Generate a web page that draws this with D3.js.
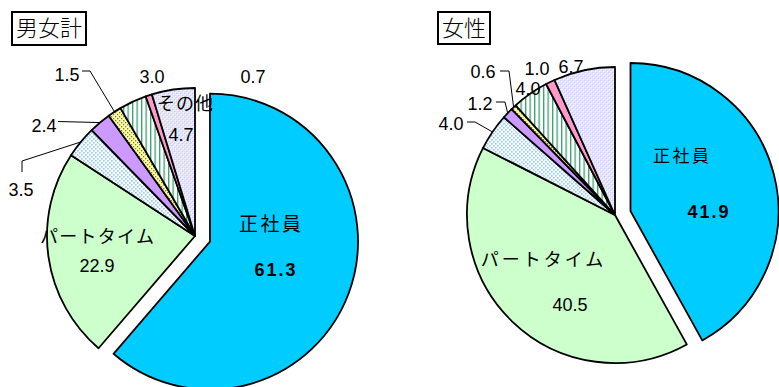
<!DOCTYPE html>
<html><head><meta charset="utf-8">
<script src="https://cdn.jsdelivr.net/npm/d3@7/dist/d3.min.js"></script>
<style>
html,body{margin:0;padding:0;background:#fff;}
svg{display:block;}
.jp{font-family:"Noto Sans CJK JP","Noto Sans",sans-serif;}
.num{font-family:"Liberation Sans",Arial,sans-serif;}
</style></head>
<body>
<svg id="c" width="779" height="387"></svg>
<script>
// ---- data ----
const categories = ["正社員","パートタイム","契約社員","嘱託社員","出向社員","派遣労働者","臨時的雇用者","その他"];
const totalValues = [61.3, 22.9, 3.5, 2.4, 1.5, 3.0, 0.7, 4.7];
const femaleValues = [41.9, 40.5, 4.0, 1.2, 0.6, 4.0, 1.0, 6.7];
const chartTitles = ["男女計", "女性"];
const totalLabels = ["61.3","22.9","3.5","2.4","1.5","3.0","0.7","4.7"];
const femaleLabels = ["41.9","40.5","4.0","1.2","0.6","4.0","1.0","6.7"];

// ---- layout / style ----
const fills = ["#00CCFF","#CCFFCC","url(#pBlue)","#CC99FF","url(#pYellow)","url(#pStripe)","#FF99CC","url(#pLav)"];
const R = 148, EXPLODE = 16;

const svg = d3.select("#c");
const defs = svg.append("defs");
// patterns
let p = defs.append("pattern").attr("id","pBlue").attr("patternUnits","userSpaceOnUse").attr("width",4).attr("height",4);
p.append("rect").attr("width",4).attr("height",4).attr("fill","#fff");
p.append("rect").attr("x",0).attr("y",0).attr("width",1.7).attr("height",1.7).attr("fill","#99CCFF");
p.append("rect").attr("x",2).attr("y",2).attr("width",1.7).attr("height",1.7).attr("fill","#99CCFF");
p = defs.append("pattern").attr("id","pYellow").attr("patternUnits","userSpaceOnUse").attr("width",4).attr("height",4);
p.append("rect").attr("width",4).attr("height",4).attr("fill","#FFFF99");
p.append("rect").attr("x",0).attr("y",0).attr("width",1.3).attr("height",1.3).attr("fill","#7a7a50");
p.append("rect").attr("x",2).attr("y",2).attr("width",1.3).attr("height",1.3).attr("fill","#7a7a50");
p = defs.append("pattern").attr("id","pStripe").attr("patternUnits","userSpaceOnUse").attr("width",4.5).attr("height",4);
p.append("rect").attr("width",4.5).attr("height",4).attr("fill","#fff");
p.append("rect").attr("x",0).attr("y",0).attr("width",1.3).attr("height",4).attr("fill","#3A9E6E");
p = defs.append("pattern").attr("id","pLav").attr("patternUnits","userSpaceOnUse").attr("width",4).attr("height",4);
p.append("rect").attr("width",4).attr("height",4).attr("fill","#E4E4FF");
p.append("rect").attr("x",0).attr("y",0).attr("width",1).attr("height",1).attr("fill","#ffffff");
p.append("rect").attr("x",2).attr("y",2).attr("width",1).attr("height",1).attr("fill","#ffffff");
p.append("rect").attr("x",1).attr("y",1).attr("width",1).attr("height",1).attr("fill","#C8C8F4");
p.append("rect").attr("x",3).attr("y",3).attr("width",1).attr("height",1).attr("fill","#C8C8F4");

const charts = [
  { title: chartTitles[0], values: totalValues, labels: totalLabels, cx: 195, cy: 236,
    box: {x:12, y:12, w:74, h:33, tx:49},
    name: [{i:0, text:"正社員", x:270, y:224, fs:19, ls:2.5},
           {i:1, text:"パートタイム", x:97, y:237, fs:18, ls:1.3},
           {i:7, text:"その他", x:185, y:104, fs:18, ls:1}],
    val: [{i:0, x:275, y:270, bold:true},
          {i:1, x:97, y:266},
          {i:2, x:21, y:190, pts:[[22,161],[22,172]]},
          {i:3, x:44, y:126, pts:[[58,121.5]]},
          {i:4, x:67, y:75, pts:[[90,71],[82,71]]},
          {i:5, x:152, y:77},
          {i:6, x:253, y:77},
          {i:7, x:181, y:135}] },
  { title: chartTitles[1], values: femaleValues, labels: femaleLabels, cx: 615, cy: 215,
    box: {x:438, y:12, w:52, h:32, tx:464},
    name: [{i:0, text:"正社員", x:681, y:156, fs:17, ls:2.5},
           {i:1, text:"パートタイム", x:542, y:260, fs:18, ls:3}],
    val: [{i:0, x:708, y:212, bold:true},
          {i:1, x:570, y:305},
          {i:2, x:451, y:124, pts:[[475,122],[467,122]]},
          {i:3, x:480, y:104, pts:[[505,102],[496,102]]},
          {i:4, x:483, y:72, pts:[[509,71],[500,71]]},
          {i:5, x:528, y:89},
          {i:6, x:537, y:69},
          {i:7, x:571, y:67}] }
];

const pie = d3.pie().sort(null).value(d => d);
const arc = d3.arc().innerRadius(0).outerRadius(R);

charts.forEach(ch => {
  const arcs = pie(ch.values);
  const g = svg.append("g").attr("transform", `translate(${ch.cx},${ch.cy})`);
  g.selectAll("path").data(arcs).join("path")
    .attr("d", arc)
    .attr("fill", (d,i) => fills[i])
    .attr("stroke", "#000")
    .attr("stroke-width", 1.8)
    .attr("stroke-linejoin", "round")
    .attr("transform", (d,i) => {
      if (i !== 0) return null;
      const m = (d.startAngle + d.endAngle) / 2;
      return `translate(${EXPLODE*Math.sin(m)},${-EXPLODE*Math.cos(m)})`;
    });

  // leader lines
  ch.val.filter(v => v.pts).forEach(v => {
    const d = arcs[v.i];
    const m = (d.startAngle + d.endAngle) / 2;
    const start = [ch.cx + R*Math.sin(m), ch.cy - R*Math.cos(m)];
    const pts = [start, ...v.pts];
    svg.append("path").attr("d", d3.line()(pts))
      .attr("fill","none").attr("stroke","#000").attr("stroke-width",1);
  });

  // names
  ch.name.forEach(n => {
    svg.append("text").attr("class","jp")
      .attr("x", n.x + n.ls/2).attr("y", n.y).attr("dy","0.36em")
      .attr("text-anchor","middle")
      .style("font-size", n.fs + "px").style("letter-spacing", n.ls + "px")
      .attr("fill","#000").text(n.text);
  });
  // values
  ch.val.forEach(v => {
    const t = svg.append("text").attr("class","num")
      .attr("x", v.x + (v.bold ? 1 : 0)).attr("y", v.y).attr("dy","0.36em")
      .attr("text-anchor","middle")
      .style("font-size","18px")
      .attr("fill","#000").text(ch.labels[v.i]);
    if (v.bold) t.style("font-weight","bold").style("letter-spacing","2px");
  });

  // title box
  svg.append("rect").attr("x", ch.box.x).attr("y", ch.box.y)
    .attr("width", ch.box.w).attr("height", ch.box.h)
    .attr("fill","#fff").attr("stroke","#000").attr("stroke-width",2);
  svg.append("text").attr("class","jp")
    .attr("x", ch.box.tx).attr("y", ch.box.y + ch.box.h/2).attr("dy","0.36em")
    .attr("text-anchor","middle").style("font-size","22px").style("font-weight","300")
    .attr("fill","#000").text(ch.title);
});
</script>
</body></html>
